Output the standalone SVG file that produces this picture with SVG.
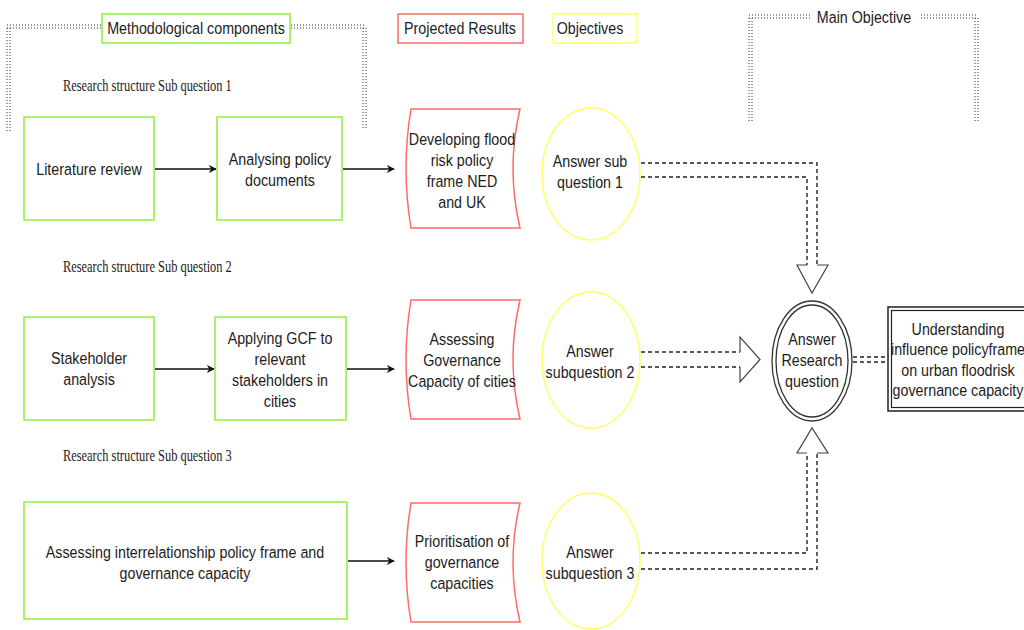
<svg xmlns="http://www.w3.org/2000/svg" width="1024" height="630" viewBox="0 0 1024 630">
  <style>
    .t { font-family: "Liberation Sans", Arial, sans-serif; font-size: 17px; fill: #1c1c1c; text-anchor: middle; }
    .rs { font-family: "Liberation Serif", "Times New Roman", serif; font-size: 17px; fill: #1c1c1c; }
    .green { fill: #ffffff; stroke: #8ef03a; stroke-width: 1.5; }
    .red { fill: #ffffff; stroke: #ff6b6b; stroke-width: 1.5; }
    .yellow { fill: #ffffff; stroke: #ffff66; stroke-width: 1.5; }
    .dots { fill: none; stroke: #333; stroke-width: 1; stroke-dasharray: 1 2; }
    .flow { fill: none; stroke: #111; stroke-width: 1.5; }
    .dash { fill: none; stroke: #222; stroke-width: 1.4; stroke-dasharray: 4 3; }
    .head { fill: #ffffff; stroke: #444; stroke-width: 1.2; }
  </style>
  <defs>
    <marker id="arrow" viewBox="0 0 10 10" refX="9" refY="5" markerWidth="8" markerHeight="8" markerUnits="userSpaceOnUse" orient="auto">
      <path d="M0,0 L10,5 L0,10 L3,5 Z" fill="#111"/>
    </marker>
  </defs>

  <rect width="1024" height="630" fill="#ffffff"/>

  <!-- legend brackets -->
  <g id="bracket-methodological">
    <path class="dots" d="M7,25 H101 M7,28 H101 M291,25 H366 M291,28 H366"/>
    <path class="dots" d="M7,28 V132 M10,28 V132 M363,28 V130 M366,28 V130"/>
  </g>
  <g id="bracket-main">
    <path class="dots" d="M749,15 H812 M749,18 H812 M921,15 H978 M921,18 H978"/>
    <path class="dots" d="M749,18 V122 M752,18 V122 M975,18 V122 M978,18 V122"/>
    <text class="t" transform="translate(864,0) scale(0.84,1)" x="0" y="23">Main Objective</text>
  </g>

  <!-- legend labels -->
  <g id="legend-methodological">
    <rect class="green" x="102" y="14" width="188" height="29"/>
    <text class="t" transform="translate(196,0) scale(0.84,1)" x="0" y="34">Methodological components</text>
  </g>
  <g id="legend-results">
    <rect class="red" x="398" y="14" width="125" height="29"/>
    <text class="t" transform="translate(460,0) scale(0.84,1)" x="0" y="34">Projected Results</text>
  </g>
  <g id="legend-objectives">
    <rect class="yellow" x="553" y="14" width="84" height="29"/>
    <text class="t" transform="translate(590,0) scale(0.84,1)" x="0" y="34">Objectives</text>
  </g>

  <!-- row headings -->
  <g id="heading-1"><text class="rs" transform="translate(63,0) scale(0.73,1)" x="0" y="91">Research structure Sub question 1</text></g>
  <g id="heading-2"><text class="rs" transform="translate(63,0) scale(0.73,1)" x="0" y="272">Research structure Sub question 2</text></g>
  <g id="heading-3"><text class="rs" transform="translate(63,0) scale(0.73,1)" x="0" y="461">Research structure Sub question 3</text></g>

  <!-- connectors -->
  <g id="connectors">
    <line class="flow" x1="155" y1="169" x2="216" y2="169" marker-end="url(#arrow)"/>
    <line class="flow" x1="343" y1="169" x2="394" y2="169" marker-end="url(#arrow)"/>
    <line class="flow" x1="155" y1="369" x2="214" y2="369" marker-end="url(#arrow)"/>
    <line class="flow" x1="347" y1="369" x2="394" y2="369" marker-end="url(#arrow)"/>
    <line class="flow" x1="348" y1="561" x2="394" y2="561" marker-end="url(#arrow)"/>

    <!-- sub question 1 down into the research question -->
    <path class="dash" d="M641,163 H817 V265"/>
    <path class="dash" d="M641,177 H807 V265"/>
    <polyline class="head" points="807,265 797,265 812,293 828,265 817,265"/>

    <!-- sub question 2 across -->
    <path class="dash" d="M641,352 H740"/>
    <path class="dash" d="M641,367 H740"/>
    <polyline class="head" points="740,352 740,337 760,359.5 740,382 740,367"/>

    <!-- sub question 3 up -->
    <path class="dash" d="M641,553 H807 V453"/>
    <path class="dash" d="M641,569 H817 V453"/>
    <polyline class="head" points="807,453 797,453 812,428 828,453 817,453"/>

    <!-- research question to main objective -->
    <path class="dash" d="M853,357 H887 M853,362 H887"/>
  </g>

  <!-- row 1 -->
  <g id="literature-review">
    <rect class="green" x="24" y="117" width="130" height="103"/>
    <text class="t" transform="translate(89,0) scale(0.84,1)" x="0" y="175">Literature review</text>
  </g>
  <g id="analysing-policy">
    <rect class="green" x="217" y="117" width="125" height="103"/>
    <text class="t" transform="translate(280,0) scale(0.84,1)" x="0" y="165">Analysing policy<tspan x="0" dy="21">documents</tspan></text>
  </g>
  <g id="result-1">
    <path class="red" d="M411,109 L520,109 Q506,168.5 520,228 L411,228 Q401,168.5 411,109 Z"/>
    <text class="t" transform="translate(462,0) scale(0.84,1)" x="0" y="145">Developing flood<tspan x="0" dy="21">risk policy</tspan><tspan x="0" dy="21">frame NED</tspan><tspan x="0" dy="21">and UK</tspan></text>
  </g>
  <g id="objective-1">
    <ellipse class="yellow" cx="591" cy="174" rx="49" ry="66"/>
    <text class="t" transform="translate(590,0) scale(0.84,1)" x="0" y="167">Answer sub<tspan x="0" dy="21">question 1</tspan></text>
  </g>

  <!-- row 2 -->
  <g id="stakeholder-analysis">
    <rect class="green" x="24" y="317" width="130" height="103"/>
    <text class="t" transform="translate(89,0) scale(0.84,1)" x="0" y="364">Stakeholder<tspan x="0" dy="21">analysis</tspan></text>
  </g>
  <g id="applying-gcf">
    <rect class="green" x="215" y="317" width="131" height="103"/>
    <text class="t" transform="translate(280,0) scale(0.84,1)" x="0" y="344">Applying GCF to<tspan x="0" dy="21">relevant</tspan><tspan x="0" dy="21">stakeholders in</tspan><tspan x="0" dy="21">cities</tspan></text>
  </g>
  <g id="result-2">
    <path class="red" d="M411,300 L520,300 Q506,359.5 520,419 L411,419 Q401,359.5 411,300 Z"/>
    <text class="t" transform="translate(462,0) scale(0.84,1)" x="0" y="345">Assessing<tspan x="0" dy="21">Governance</tspan><tspan x="0" dy="21">Capacity of cities</tspan></text>
  </g>
  <g id="objective-2">
    <ellipse class="yellow" cx="591" cy="360" rx="49" ry="68"/>
    <text class="t" transform="translate(590,0) scale(0.84,1)" x="0" y="357">Answer<tspan x="0" dy="21">subquestion 2</tspan></text>
  </g>

  <!-- row 3 -->
  <g id="assessing-interrelationship">
    <rect class="green" x="24" y="502" width="323" height="117"/>
    <text class="t" transform="translate(185,0) scale(0.84,1)" x="0" y="558">Assessing interrelationship policy frame and<tspan x="0" dy="21">governance capacity</tspan></text>
  </g>
  <g id="result-3">
    <path class="red" d="M411,503 L520,503 Q506,562.5 520,622 L411,622 Q401,562.5 411,503 Z"/>
    <text class="t" transform="translate(462,0) scale(0.84,1)" x="0" y="547">Prioritisation of<tspan x="0" dy="21">governance</tspan><tspan x="0" dy="21">capacities</tspan></text>
  </g>
  <g id="objective-3">
    <ellipse class="yellow" cx="591" cy="561" rx="49" ry="68"/>
    <text class="t" transform="translate(590,0) scale(0.84,1)" x="0" y="558">Answer<tspan x="0" dy="21">subquestion 3</tspan></text>
  </g>

  <!-- research question and main objective -->
  <g id="research-question">
    <ellipse cx="812" cy="361" rx="40" ry="60" fill="#ffffff" stroke="#333" stroke-width="1.3"/>
    <ellipse cx="812" cy="361" rx="36" ry="56" fill="none" stroke="#333" stroke-width="1.3"/>
    <text class="t" transform="translate(812,0) scale(0.84,1)" x="0" y="345">Answer<tspan x="0" dy="21">Research</tspan><tspan x="0" dy="21">question</tspan></text>
  </g>
  <g id="main-objective">
    <rect x="888" y="307" width="140" height="104" fill="#ffffff" stroke="#222" stroke-width="1.5"/>
    <rect x="891.5" y="310.5" width="140" height="97" fill="none" stroke="#222" stroke-width="1.2"/>
    <text class="t" transform="translate(958,0) scale(0.84,1)" x="0" y="335">Understanding<tspan x="0" dy="20.5">influence policyframe</tspan><tspan x="0" dy="20.5">on urban floodrisk</tspan><tspan x="0" dy="20.5">governance capacity</tspan></text>
  </g>
</svg>
